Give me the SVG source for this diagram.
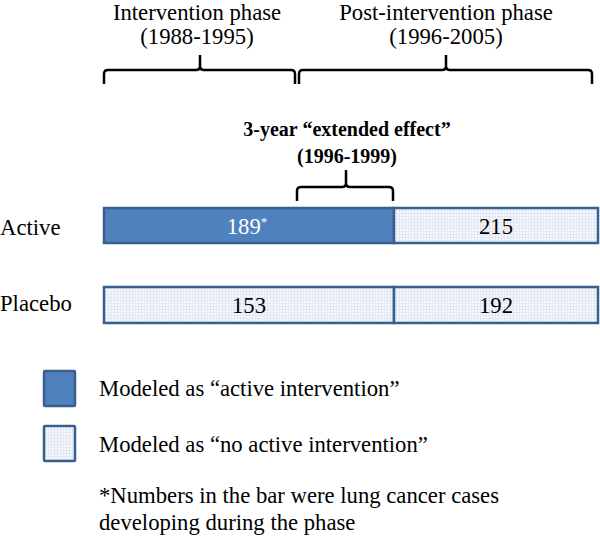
<svg xmlns="http://www.w3.org/2000/svg" width="600" height="537" viewBox="0 0 600 537">
<style>
text{font-family:"Liberation Serif","Times New Roman",serif;fill:#000;font-size:22.7px}
.c{text-anchor:middle}
.b{font-weight:bold;font-size:20px}
.w{fill:#fff}
.brace{fill:none;stroke:#000;stroke-width:2.5;stroke-linejoin:round;stroke-linecap:butt}
.dark{fill:#4F81BD;stroke:#3A5F8E;stroke-width:2.5}
.light{fill:url(#grid);stroke:#3A5F8E;stroke-width:2.5}
</style>
<defs>
<pattern id="grid" width="3" height="3" patternUnits="userSpaceOnUse">
<rect width="3" height="3" fill="#F4F7FC"/>
<path d="M0 0.5H3M0.5 0V3" stroke="#E1E8F3" stroke-width="1"/>
</pattern>
</defs>
<rect width="600" height="537" fill="#fff"/>
<g id="phase-labels">
<text class="c" x="197" y="20">Intervention phase</text>
<text class="c" x="197" y="44">(1988-1995)</text>
<text class="c" x="446" y="20">Post-intervention phase</text>
<text class="c" x="446" y="44">(1996-2005)</text>
</g>
<g id="connectors">
<path class="brace" d="M104,84 V74 Q104,70 108,70 H196 Q200,70 200,66 V55 M200,66 Q200,70 204,70 H291 Q295,70 295,74 V84"/>
<path class="brace" d="M299,84 V74 Q299,70 303,70 H442 Q446,70 446,66 V55 M446,66 Q446,70 450,70 H588 Q592,70 592,74 V84"/>
<path class="brace" d="M297,201 V191 Q297,187 301,187 H342 Q346,187 346,183 V170 M346,183 Q346,187 350,187 H389 Q393,187 393,191 V201"/>
</g>
<g id="extended-label">
<text class="c b" x="347" y="136">3-year “extended effect”</text>
<text class="c b" x="347" y="163">(1996-1999)</text>
</g>
<g id="active-row">
<text x="0" y="235">Active</text>
<rect class="dark" x="104" y="208" width="290" height="35"/>
<rect class="light" x="394" y="208" width="204" height="35"/>
<text class="c w" x="247" y="234">189<tspan font-size="13" dy="-8">*</tspan></text>
<text class="c" x="496" y="234">215</text>
</g>
<g id="placebo-row">
<text x="0" y="311">Placebo</text>
<rect class="light" x="104" y="287" width="290" height="36"/>
<rect class="light" x="394" y="287" width="204" height="36"/>
<text class="c" x="249" y="313">153</text>
<text class="c" x="496" y="313">192</text>
</g>
<g id="legend-active">
<rect class="dark" x="44" y="371" width="31" height="35" rx="1"/>
<text x="99" y="396">Modeled as “active intervention”</text>
</g>
<g id="legend-none">
<rect class="light" x="44" y="426" width="31" height="35" rx="1"/>
<text x="99" y="452">Modeled as “no active intervention”</text>
</g>
<g id="footnote">
<text x="99" y="503">*Numbers in the bar were lung cancer cases</text>
<text x="99" y="530">developing during the phase</text>
</g>
</svg>
